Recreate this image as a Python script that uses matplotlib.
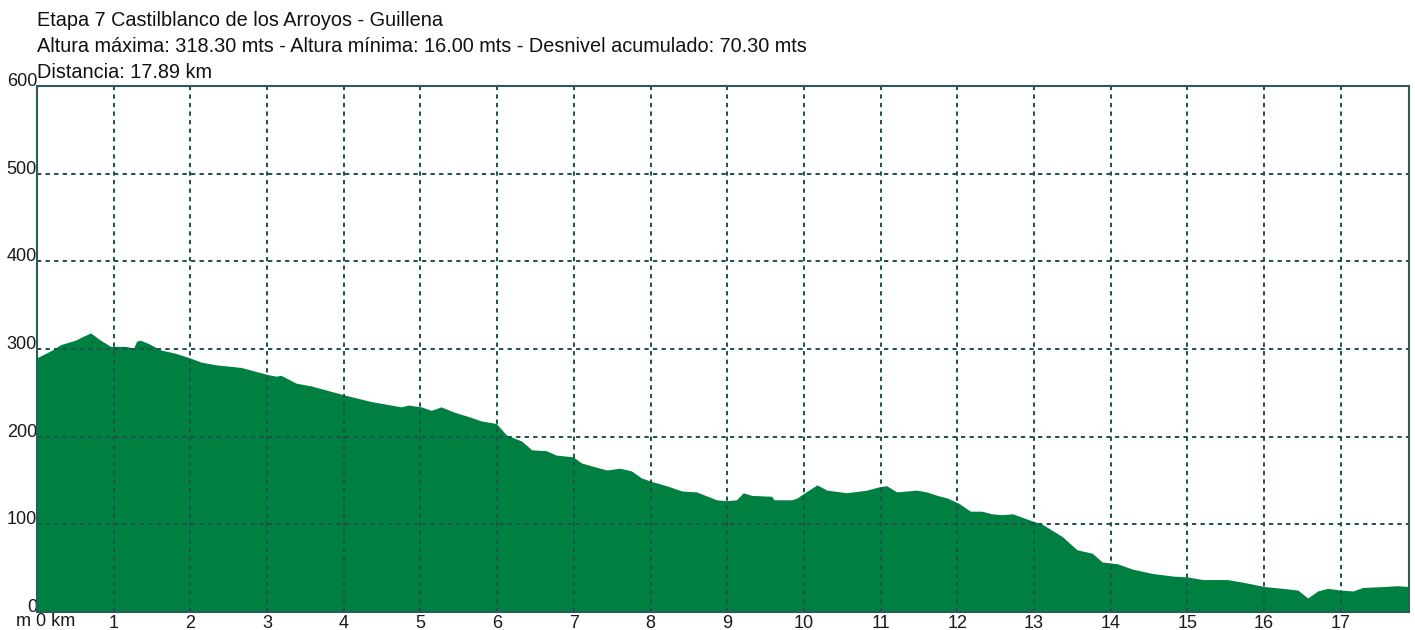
import matplotlib
matplotlib.use("Agg")
import matplotlib.pyplot as plt
import numpy as np

plt.rcParams['font.family'] = ['Liberation Sans', 'DejaVu Sans']

title_lines = [
    "Etapa 7 Castilblanco de los Arroyos - Guillena",
    "Altura máxima: 318.30 mts - Altura mínima: 16.00 mts - Desnivel acumulado: 70.30 mts",
    "Distancia: 17.89 km",
]

# distance (km) and altitude (m) read from the profile
dist_km = [0.0, 0.18, 0.31, 0.50, 0.59, 0.70, 0.83, 0.96, 1.16, 1.26, 1.30, 1.35, 1.46,
           1.61, 1.81, 1.99, 2.14, 2.33, 2.66, 3.00, 3.12, 3.18, 3.38, 3.57, 3.99, 4.36,
           4.75, 4.84, 5.01, 5.14, 5.27, 5.44, 5.66, 5.79, 5.99, 6.12, 6.32, 6.45, 6.64,
           6.77, 6.99, 7.10, 7.30, 7.43, 7.60, 7.75, 7.88, 8.01, 8.21, 8.41, 8.60, 8.86,
           8.99, 9.12, 9.21, 9.32, 9.58, 9.61, 9.84, 9.91, 10.01, 10.17, 10.30, 10.56,
           10.82, 10.99, 11.08, 11.21, 11.47, 11.60, 11.74, 11.87, 12.02, 12.17, 12.32,
           12.45, 12.58, 12.72, 12.91, 13.11, 13.37, 13.56, 13.76, 13.89, 14.09, 14.28,
           14.54, 14.81, 15.00, 15.20, 15.52, 15.72, 16.01, 16.24, 16.44, 16.57, 16.70,
           16.83, 17.00, 17.16, 17.29, 17.55, 17.74, 17.89]
alt_m = [290, 298, 305, 310, 314, 318.3, 310, 303, 303, 301, 309, 310, 306,
         299, 295, 290, 285, 282, 279, 271, 269, 270, 261, 258, 248, 240,
         234, 236, 234, 230, 234, 228, 222, 218, 215, 202, 195, 185, 184,
         179, 177, 170, 165, 162, 164, 161, 153, 149, 144, 138, 137, 128,
         127, 128, 136, 133, 132, 128, 128, 130, 136, 145, 139, 136,
         139, 143, 144, 137, 139, 137, 133, 130, 124, 115, 115,
         112, 111, 112, 106, 100, 86, 71, 67, 57, 55, 49,
         44, 41, 40, 37, 37, 34, 29, 27, 25, 16, 24,
         27, 25, 24, 28, 29, 30, 29]

x_ticks = list(range(1, 18))
y_ticks = [0, 100, 200, 300, 400, 500, 600]

W, H = 1415, 630
fig = plt.figure(figsize=(W / 100, H / 100), dpi=100)
ax = fig.add_axes([37 / W, (H - 612) / H, (1409 - 37) / W, (612 - 86) / H])

ax.fill_between(dist_km, alt_m, 0, color='#008040', linewidth=0, zorder=1)

ax.set_xlim(0, 17.89)
ax.set_ylim(0, 600)

grid_color = '#1d5050'
for xv in x_ticks:
    ax.axvline(xv, color=grid_color, lw=1.4, ls=(0, (2.2, 2.2)), zorder=2)
for yv in y_ticks[1:-1]:
    ax.axhline(yv, color=grid_color, lw=1.4, ls=(0, (2.2, 2.2)), zorder=2)

for side in ['left', 'bottom', 'top', 'right']:
    ax.spines[side].set_color('#2a5c5c')
    ax.spines[side].set_linewidth(1.5)
    ax.spines[side].set_zorder(3)

ax.set_xticks(x_ticks)
ax.set_xticklabels([str(v) for v in x_ticks], fontsize=13)
ax.set_yticks(y_ticks)
ax.set_yticklabels([str(v) for v in y_ticks], fontsize=13)
for lab in ax.get_yticklabels():
    lab.set_va('baseline')
ax.tick_params(axis='both', length=0, colors='#1a1a1a')
ax.tick_params(axis='y', pad=0)
ax.tick_params(axis='x', pad=2)

fig.text(16 / W, 1 - 622 / H, "m 0 km", fontsize=13, va='center', ha='left', color='#1a1a1a')

for i, line in enumerate(title_lines):
    fig.text(37 / W, 1 - (20 + 26 * i) / H, line, fontsize=14.3, va='center', ha='left', color='#111111')

fig.savefig("out.png", dpi=100)
